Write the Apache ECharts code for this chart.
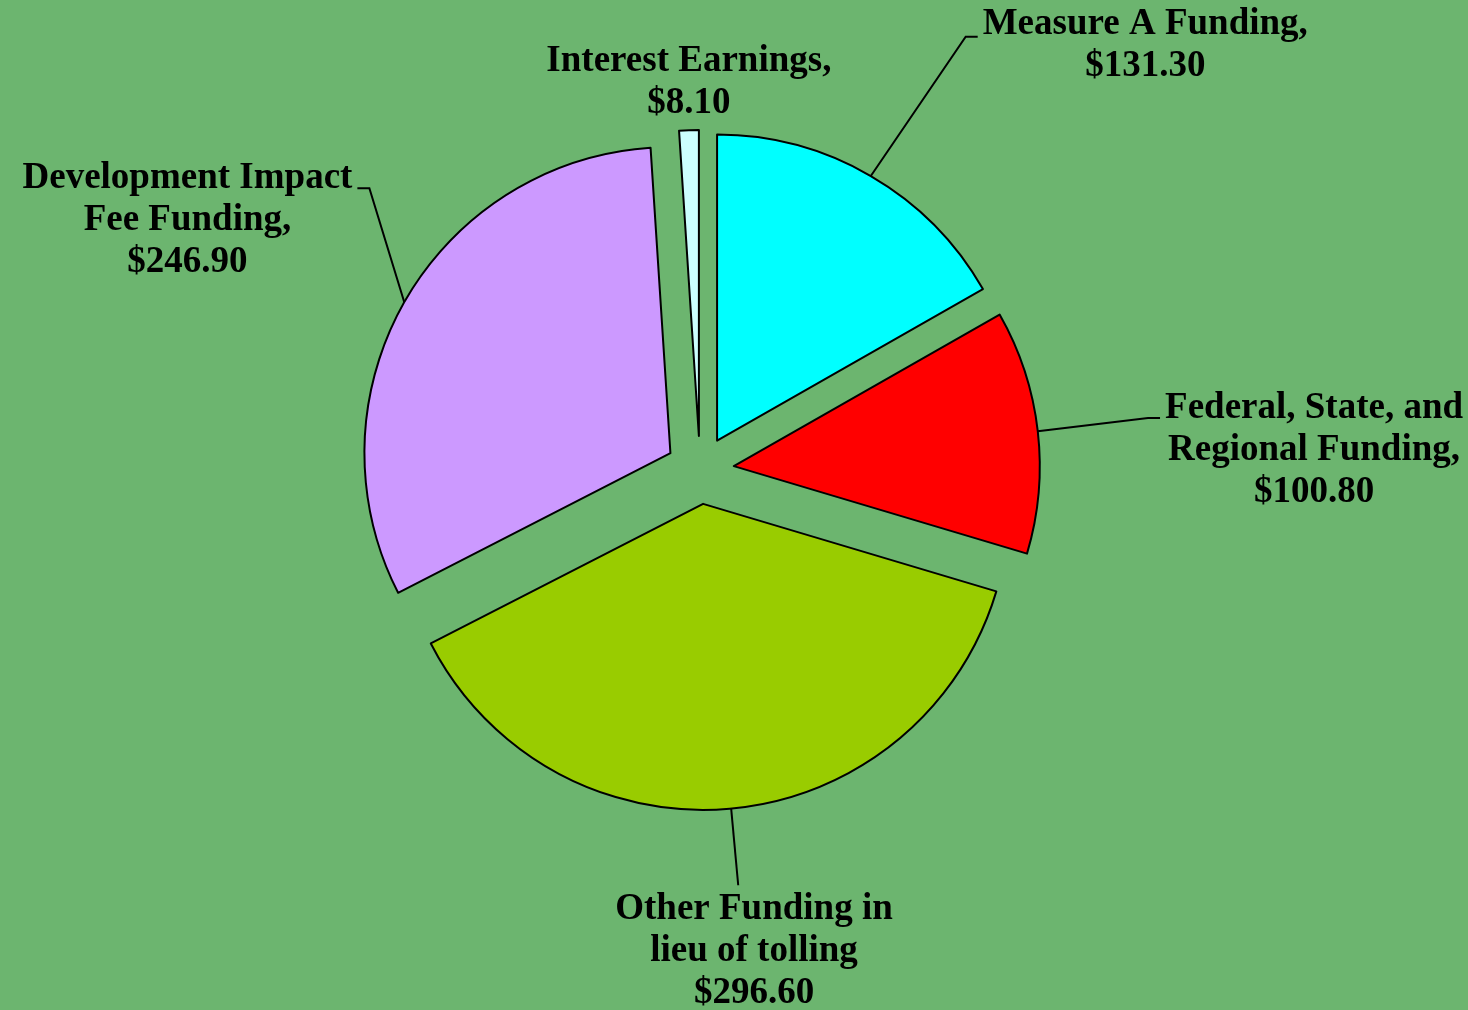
<!DOCTYPE html>
<html>
<head>
<meta charset="utf-8">
<script src="https://cdn.jsdelivr.net/npm/echarts@6/dist/echarts.min.js"></script>
<style>
  html, body { margin: 0; padding: 0; background: #6cb56f; }
  #chart { width: 1468px; height: 1010px; }
</style>
</head>
<body>
<div id="chart"></div>
<script>
// funding sources ($ millions)
const categories = [
  'Measure A Funding',
  'Federal, State, and\nRegional Funding',
  'Other Funding in\nlieu of tolling',
  'Development Impact\nFee Funding',
  'Interest Earnings',
]
const amounts = [131.30, 100.80, 296.60, 246.90, 8.10]
const separators = [',', ',', '', ',', ',']
const colors = ['#00ffff', '#ff0000', '#99cc00', '#cc99ff', '#ccffff']

// leader line lengths and label vertical shift, per slice
const lineLen = [161, 117, 77, 231, 48]
const lineLen2 = [26, 6, -128, -154, -149]
const labelPadTop = [18, 65, 133, 65, 0]

const fontFamily = '"Liberation Serif", "Times New Roman", serif'

const pieData = categories.map((name, i) => ({
  name: name,
  value: amounts[i],
  selected: true,
  itemStyle: { color: colors[i] },
  label: { padding: [labelPadTop[i], 0, 0, 0] },
  labelLine: {
    show: i !== 4,
    length: lineLen[i],
    length2: lineLen2[i],
  },
}))

const chart = echarts.init(document.getElementById('chart'))
chart.setOption({
  backgroundColor: '#6cb56f',
  animation: false,
  series: [{
    type: 'pie',
    center: [700, 470],
    radius: 306,
    startAngle: 90,
    clockwise: true,
    selectedMode: 'multiple',
    selectedOffset: 34,
    avoidLabelOverlap: false,
    emphasis: { disabled: true },
    itemStyle: { borderColor: '#000', borderWidth: 2 },
    select: { itemStyle: { borderColor: '#000', borderWidth: 2 } },
    label: {
      show: true,
      position: 'outside',
      distanceToLabelLine: 5,
      color: '#000',
      fontFamily: fontFamily,
      fontWeight: 'bold',
      fontSize: 37,
      lineHeight: 42,
      formatter: p => {
        const lines = p.name.split('\n')
        lines[lines.length - 1] += separators[p.dataIndex]
        lines.push('$' + p.value.toFixed(2))
        return lines.map(s => '{c|' + s + '}').join('\n')
      },
      rich: {
        c: {
          align: 'center',
          color: '#000',
          fontFamily: fontFamily,
          fontWeight: 'bold',
          fontSize: 37,
          lineHeight: 42,
        },
      },
    },
    labelLine: {
      show: true,
      minTurnAngle: 0,
      maxSurfaceAngle: 180,
      lineStyle: { color: '#000', width: 2 },
    },
    // move the elbow next to the text, drop the tail under "Other"
    labelLayout: p => {
      const pts = p.labelLinePoints
      if (!pts || pts.length < 3) return {}
      if (p.dataIndex === 2) return { labelLinePoints: [pts[0], pts[1]] }
      const end = pts[2]
      const side = end[0] > pts[0][0] ? 1 : -1
      return { labelLinePoints: [pts[0], [end[0] - side * 12, end[1]], end] }
    },
    data: pieData,
  }],
})
</script>
</body>
</html>
